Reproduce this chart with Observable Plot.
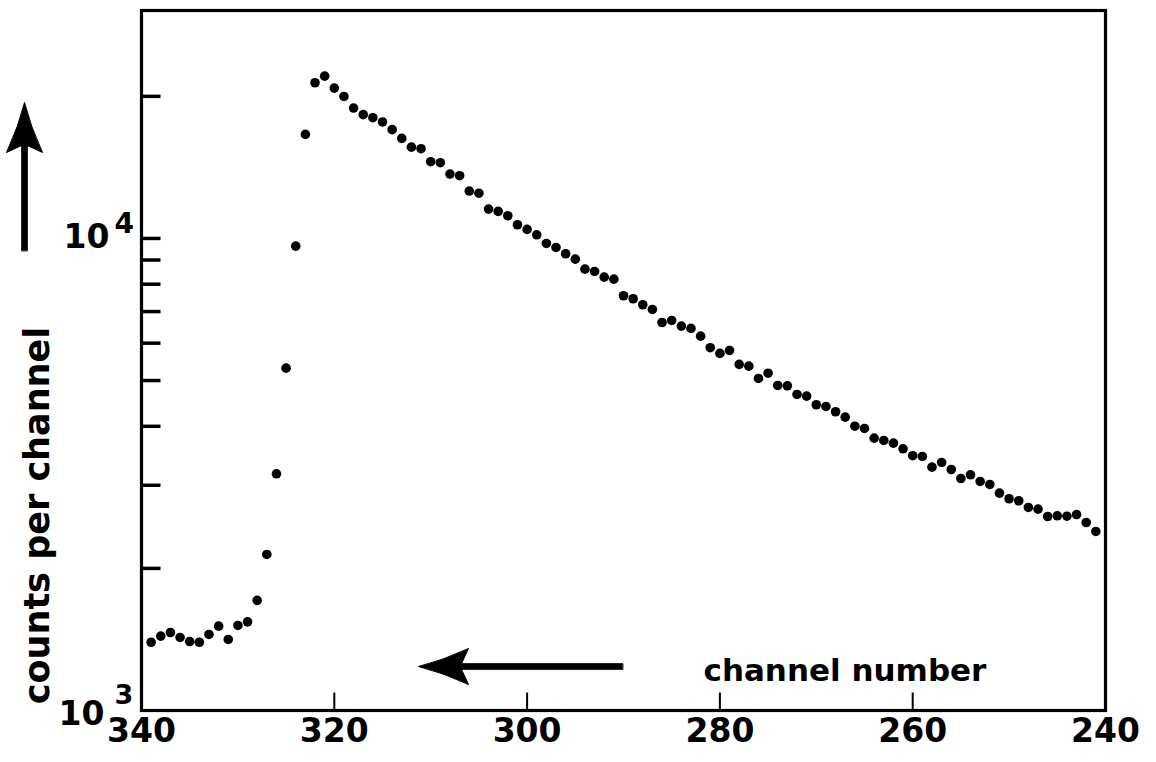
<!DOCTYPE html>
<html>
<head>
<meta charset="utf-8">
<script src="https://cdn.jsdelivr.net/npm/d3@7"></script>
<script src="https://cdn.jsdelivr.net/npm/@observablehq/plot@0.6"></script>
<style>
  html, body { margin: 0; padding: 0; background: #fff; }
  #chart svg { display: block; }
</style>
</head>
<body>
<div id="chart"></div>
<script>
// ---- data ----
const channels = [
  339,338,337,336,335,334,333,332,331,330,
  329,328,327,326,325,324,323,322,321,320,
  319,318,317,316,315,314,313,312,311,310,
  309,308,307,306,305,304,303,302,301,300,
  299,298,297,296,295,294,293,292,291,290,
  289,288,287,286,285,284,283,282,281,280,
  279,278,277,276,275,274,273,272,271,270,
  269,268,267,266,265,264,263,262,261,260,
  259,258,257,256,255,254,253,252,251,250,
  249,248,247,246,245,244,243,242,241
];
const counts = [
  1395,1437,1463,1428,1400,1395,1449,1509,1414,1514,
  1541,1711,2141,3173,5312,9632,16610,21370,22070,20820,
  19990,18890,18290,18020,17650,17000,16290,15610,15490,14540,
  14470,13690,13580,12600,12470,11540,11410,11170,10690,10450,
  10180,9759,9570,9281,9040,8610,8513,8279,8199,7561,
  7451,7236,7073,6637,6703,6521,6448,6209,5868,5708,
  5791,5410,5364,5051,5183,4882,4874,4672,4634,4443,
  4407,4294,4182,4002,3958,3775,3733,3684,3584,3465,
  3453,3277,3353,3240,3101,3157,3056,3012,2887,2809,
  2782,2692,2670,2576,2585,2580,2601,2502,2395
];
const xTickLabels = [340, 320, 300, 280, 260, 240];
const xInnerTicks = [320, 300, 280, 260];
const yTicks = [2000, 3000, 4000, 5000, 6000, 7000, 8000, 9000, 10000, 20000];
const yLabelValues = [1000, 10000];
const yLabelExponents = ["3", "4"];
const xTitle = "channel number";
const yTitle = "counts per channel";

const data = channels.map((c, i) => ({channel: c, count: counts[i]}));
const yLabels = yLabelValues.map((v, i) => ({v, e: yLabelExponents[i]}));

const FONT = "DejaVu Sans";

// simple line shape for inward ticks
const lineShape = { draw(ctx, l) { ctx.moveTo(0, 0); ctx.lineTo(0, -l); } };
// filled arrow with concave head
const bigArrow = {
  draw(ctx, l) {
    const h = 50, w = 18, s = 2.8;
    ctx.moveTo(-s, 0);
    ctx.lineTo(-s, -l + h - 7);
    ctx.lineTo(-w, -l + h);
    ctx.quadraticCurveTo(-6, -l + 24, 0, -l);
    ctx.quadraticCurveTo(6, -l + 24, w, -l + h);
    ctx.lineTo(s, -l + h - 7);
    ctx.lineTo(s, 0);
    ctx.closePath();
  }
};

const labelStyle = {fill: "black", fontFamily: FONT, fontWeight: "bold"};

const plot = Plot.plot({
  width: 1156,
  height: 762,
  marginLeft: 141,
  marginRight: 51,
  marginTop: 10,
  marginBottom: 52,
  style: {background: "white", color: "black", fontFamily: FONT},
  x: {domain: [340, 240], axis: null},
  y: {type: "log", domain: [1000, 30400], axis: null},
  marks: [
    Plot.frame({stroke: "black", strokeWidth: 3.2}),
    // inward y ticks
    Plot.vector(yTicks, {y: d => d, frameAnchor: "left", length: 19, rotate: 90, anchor: "start",
      shape: lineShape, stroke: "black", strokeWidth: 3.5, strokeLinecap: "butt"}),
    // inward x ticks
    Plot.vector(xInnerTicks, {x: d => d, frameAnchor: "bottom", length: 18, rotate: 0, anchor: "start",
      shape: lineShape, stroke: "black", strokeWidth: 2, strokeLinecap: "butt"}),
    // x tick labels
    Plot.text(xTickLabels, {x: d => d, text: d => String(d), frameAnchor: "bottom", dy: 31,
      textAnchor: "middle", fontSize: 33, ...labelStyle}),
    // y labels: 10 with superscript exponent (10^3 at the corner, 10^4 at its tick)
    Plot.text(yLabels.filter(d => d.e === "3"), {y: "v", text: () => "10", frameAnchor: "left", dx: -37, dy: 4,
      textAnchor: "end", fontSize: 33, ...labelStyle}),
    Plot.text(yLabels.filter(d => d.e === "3"), {y: "v", text: "e", frameAnchor: "left", dx: -27, dy: -15,
      textAnchor: "start", fontSize: 27, ...labelStyle}),
    Plot.text(yLabels.filter(d => d.e === "4"), {y: "v", text: () => "10", frameAnchor: "left", dx: -32, dy: -1,
      textAnchor: "end", fontSize: 33, ...labelStyle}),
    Plot.text(yLabels.filter(d => d.e === "4"), {y: "v", text: "e", frameAnchor: "left", dx: -27, dy: -14,
      textAnchor: "start", fontSize: 28, ...labelStyle}),
    // data points
    Plot.dot(data, {x: "channel", y: "count", r: 4.8, fill: "black", stroke: "none"}),
    // x axis title and arrow
    Plot.text([xTitle], {frameAnchor: "bottom-left", dx: 562, dy: -30, lineAnchor: "bottom", textAnchor: "start",
      fontSize: 31, ...labelStyle}),
    Plot.vector([0], {frameAnchor: "bottom-left", dx: 481, dy: -44, length: 204, rotate: -90, anchor: "start",
      shape: bigArrow, fill: "black", stroke: "black", strokeWidth: 1}),
    // y axis title and arrow
    Plot.text([yTitle], {frameAnchor: "left", dx: -104, dy: 155, rotate: -90, textAnchor: "middle",
      lineAnchor: "middle", fontSize: 35, ...labelStyle}),
    Plot.vector([0], {frameAnchor: "top-left", dx: -117, dy: 240, length: 148, rotate: 0, anchor: "start",
      shape: bigArrow, fill: "black", stroke: "black", strokeWidth: 1})
  ]
});
document.getElementById("chart").appendChild(plot);
</script>
</body>
</html>
